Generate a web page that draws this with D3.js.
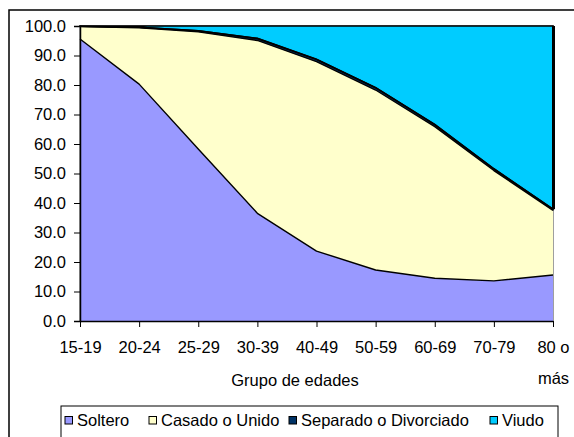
<!DOCTYPE html>
<html><head><meta charset="utf-8">
<script src="https://cdn.jsdelivr.net/npm/d3@7"></script>
<style>
html,body{margin:0;padding:0;background:#fff;}
svg{display:block;font-family:"Liberation Sans",Arial,sans-serif;}
</style></head>
<body>
<svg id="c" width="574" height="437"></svg>
<script>
const categories = ["15-19","20-24","25-29","30-39","40-49","50-59","60-69","70-79","80 o más"];
const seriesNames = ["Soltero","Casado o Unido","Separado o Divorciado","Viudo"];
const soltero  = [95.6, 80.3, 58.3, 36.5, 23.7, 17.3, 14.5, 13.6, 15.6];
const casado   = [4.2, 19.1, 39.7, 58.6, 64.2, 61.0, 51.4, 37.4, 21.9];
const separado = [0.1, 0.2, 0.4, 0.7, 0.8, 0.8, 0.7, 0.6, 0.4];
const viudo    = [0.1, 0.4, 1.6, 4.2, 11.3, 20.9, 33.4, 48.4, 62.1];
const yTicks = [0,10,20,30,40,50,60,70,80,90,100];
const colors = ["#9999FF","#FFFFCC","#003366","#00CCFF"];

const svg = d3.select("#c");
const fs = "16.5px";
const L = 80, R = 553, T = 26, B = 321;

// outer chart border
svg.append("rect").attr("x",9).attr("y",10).attr("width",600).attr("height",500)
  .attr("fill","#fff").attr("stroke","#000").attr("stroke-width",1.5);

const x = d3.scalePoint().domain(categories).range([L,R]);
const y = d3.scaleLinear().domain([0,100]).range([B,T]);

const table = categories.map((c,i)=>({cat:c, s0:soltero[i], s1:casado[i], s2:separado[i], s3:viudo[i]}));
const stack = d3.stack().keys(["s0","s1","s2","s3"]);
const layers = stack(table);

// plot area border (gray)
svg.append("rect").attr("x",L).attr("y",T).attr("width",R-L).attr("height",B-T)
  .attr("fill","none").attr("stroke","#808080").attr("stroke-width",1.5);

const area = d3.area().x(d=>x(d.data.cat)).y0(d=>y(d[0])).y1(d=>y(d[1]));
const line = d3.line().x(d=>x(d.data.cat)).y(d=>y(d[1]));

svg.append("g").selectAll("path").data(layers).join("path")
  .attr("d",area).attr("fill",(d,i)=>colors[i]).attr("stroke","none");

// top boundary lines
svg.append("g").selectAll("path").data(layers.slice(0,3)).join("path")
  .attr("d",line).attr("fill","none").attr("stroke","#000").attr("stroke-width",1.4)
  .attr("stroke-linejoin","round");
// Viudo outline
svg.append("path").datum(layers[3]).attr("d",area).attr("fill","none")
  .attr("stroke","#000").attr("stroke-width",1.6).attr("stroke-linejoin","miter");
// right edge of Viudo (thick)
const last = layers[3][layers[3].length-1];
svg.append("line").attr("x1",R+0.5).attr("x2",R+0.5).attr("y1",y(last[1])).attr("y2",y(last[0]))
  .attr("stroke","#000").attr("stroke-width",3);

// axes
const yAxis = d3.axisLeft(y).tickValues(yTicks).tickFormat(d3.format(".1f")).tickSize(6).tickPadding(8);
const gy = svg.append("g").attr("transform",`translate(${L},0)`).call(yAxis);
gy.select(".domain").attr("stroke","#000").attr("stroke-width",1.5);
gy.selectAll(".tick line").attr("stroke","#000");
gy.selectAll("text").attr("font-size",fs).attr("fill","#000").attr("font-family","Liberation Sans, Arial, sans-serif");

const xAxis = d3.axisBottom(x).tickSize(6).tickSizeOuter(0);
const gx = svg.append("g").attr("transform",`translate(0,${B})`).call(xAxis);
gx.select(".domain").attr("stroke","#000").attr("stroke-width",1.5);
gx.selectAll(".tick line").attr("stroke","#000");
gx.selectAll("text").each(function(d){
  const t = d3.select(this);
  t.text(null).attr("y",null).attr("dy",null)
   .attr("font-size",fs).attr("fill","#000").attr("font-family","Liberation Sans, Arial, sans-serif");
  const parts = d === "80 o más" ? ["80 o","más"] : [d];
  parts.forEach((p,k)=>t.append("tspan").attr("x",0).attr("y",32+k*31).text(p));
});

svg.append("text").attr("x",295).attr("y",386).attr("text-anchor","middle")
  .attr("font-size",fs).text("Grupo de edades");

// legend
svg.append("rect").attr("x",61).attr("y",406).attr("width",497).attr("height",40)
  .attr("fill","#fff").attr("stroke","#000").attr("stroke-width",1);
const legX = [65,149,289,490];
const lg = svg.append("g").selectAll("g").data(seriesNames).join("g")
  .attr("transform",(d,i)=>`translate(${legX[i]},0)`);
lg.append("rect").attr("x",0).attr("y",416.5).attr("width",7.5).attr("height",7.5)
  .attr("fill",(d,i)=>colors[i]).attr("stroke","#000").attr("stroke-width",1);
lg.append("text").attr("x",12).attr("y",425.5).attr("font-size",fs).text(d=>d);
</script>
</body></html>
